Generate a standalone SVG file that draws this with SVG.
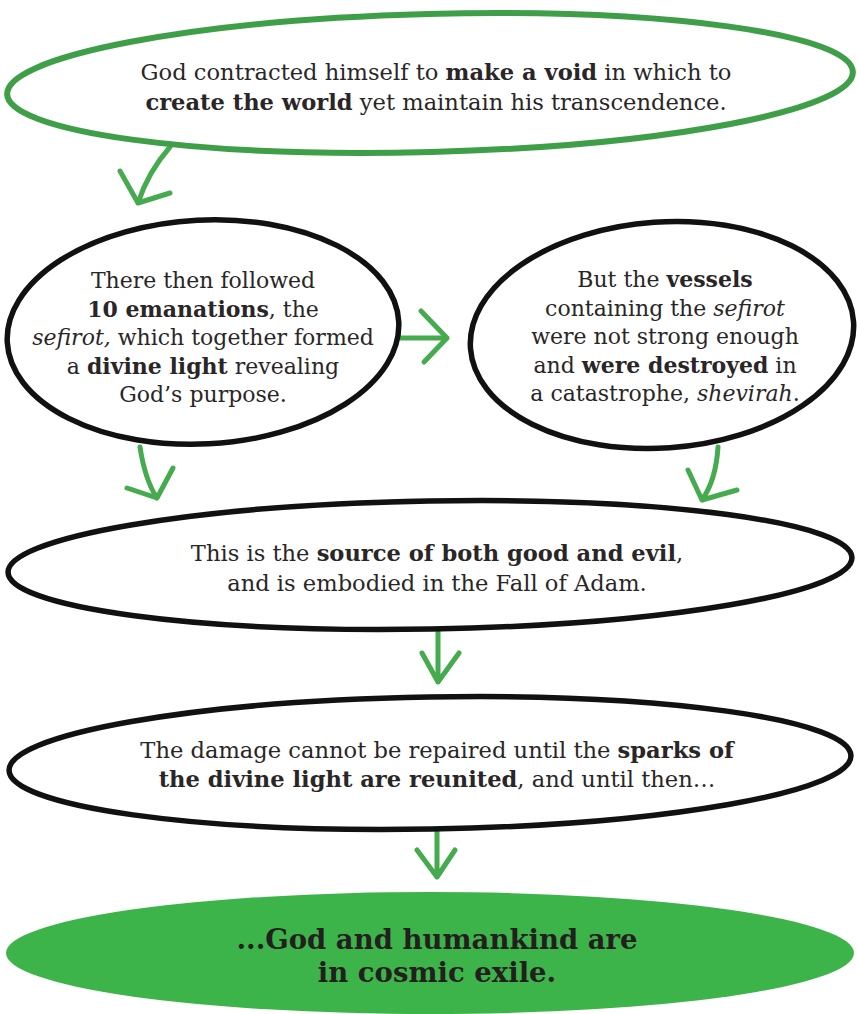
<svg xmlns="http://www.w3.org/2000/svg" width="857" height="1014" viewBox="0 0 857 1014">
<style>
.t{font-family:"DejaVu Serif","Liberation Serif",serif;font-size:22px;fill:#2a2627;text-anchor:middle}
.w{font-size:22.6px}
.b{font-weight:bold}
.i{font-style:italic}
.blk{fill:#fff;stroke:#111;stroke-width:5.5}
.arr{fill:none;stroke:#45ab4e;stroke-width:5;stroke-linecap:round;stroke-linejoin:round}
.fin{font-family:"DejaVu Serif","Liberation Serif",serif;font-size:27.5px;font-weight:bold;fill:#231f20;text-anchor:middle}
</style>
<rect width="857" height="1014" fill="#fff"/>
<g id="connectors">
<path class="arr" d="M170,147 Q148,172 138,203 M120,171 L138,203 L170,193"/>
<path class="arr" d="M396,338 L447,338 M421,311 L447,338 L424,362"/>
<path class="arr" d="M140,447 Q145,480 157,498 M127,488 L157,498 L173,468"/>
<path class="arr" d="M718,447 Q716,480 702,500 M688,470 L702,500 L737,490"/>
<path class="arr" d="M438,632 L438,682 M422,653 L438,682 L459,653"/>
<path class="arr" d="M437,830 L437,877 M417,850 L437,877 L455,850"/>
</g>
<g id="n1">
<ellipse cx="430" cy="83" rx="423" ry="69" transform="rotate(-1.5 430 83)" fill="#fff" stroke="#3f9e48" stroke-width="6"/>
<text class="t w"><tspan x="436" y="80">God contracted himself to <tspan class="b">make a void</tspan> in which to</tspan><tspan x="436" y="110"><tspan class="b">create the world</tspan> yet maintain his transcendence.</tspan></text>
</g>
<g id="n2">
<ellipse class="blk" cx="203" cy="332" rx="196" ry="112" transform="rotate(-3 203 332)"/>
<text class="t"><tspan x="203" y="288">There then followed</tspan><tspan x="203" y="316.5"><tspan class="b">10 emanations</tspan>, the</tspan><tspan x="203" y="345"><tspan class="i">sefirot,</tspan> which together formed</tspan><tspan x="203" y="373.5">a <tspan class="b">divine light</tspan> revealing</tspan><tspan x="203" y="402">God’s purpose.</tspan></text>
</g>
<g id="n3">
<ellipse class="blk" cx="662" cy="335" rx="192" ry="113" transform="rotate(-4 662 335)"/>
<text class="t"><tspan x="665" y="287">But the <tspan class="b">vessels</tspan></tspan><tspan x="665" y="315.5">containing the <tspan class="i">sefirot</tspan></tspan><tspan x="665" y="344">were not strong enough</tspan><tspan x="665" y="372.5">and <tspan class="b">were destroyed</tspan> in</tspan><tspan x="665" y="401">a catastrophe, <tspan class="i">shevirah</tspan>.</tspan></text>
</g>
<g id="n4">
<ellipse class="blk" cx="430" cy="565" rx="422" ry="64" transform="rotate(-1 430 565)"/>
<text class="t w"><tspan x="437" y="561">This is the <tspan class="b">source of both good and evil</tspan>,</tspan><tspan x="437" y="591">and is embodied in the Fall of Adam.</tspan></text>
</g>
<g id="n5">
<ellipse class="blk" cx="430" cy="763" rx="421" ry="66" transform="rotate(-1 430 763)"/>
<text class="t w"><tspan x="437" y="758">The damage cannot be repaired until the <tspan class="b">sparks of</tspan></tspan><tspan x="437" y="787"><tspan class="b">the divine light are reunited</tspan>, and until then…</tspan></text>
</g>
<g id="n6">
<ellipse cx="430" cy="953" rx="424" ry="61" fill="#3db449"/>
<text class="fin"><tspan x="437" y="949">...God and humankind are</tspan><tspan x="437" y="982">in cosmic exile.</tspan></text>
</g>
</svg>
